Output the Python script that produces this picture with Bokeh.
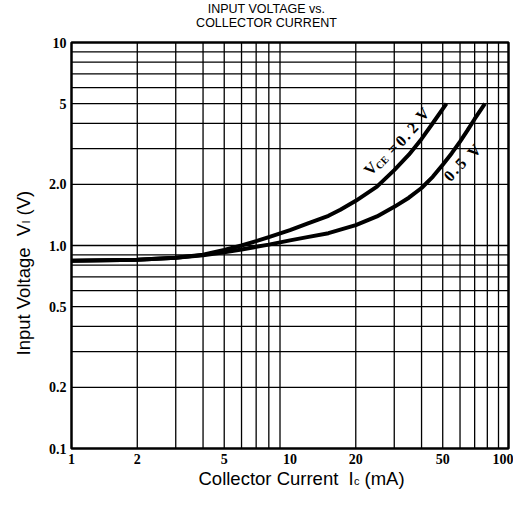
from bokeh.plotting import figure
from bokeh.models import FixedTicker, Label, Range1d
from bokeh.embed import file_html
from bokeh.resources import INLINE

# ---------------- data ----------------
x_lim = [1, 100]
y_lim = [0.1, 10]
x_ticks = [1, 2, 5, 10, 20, 50, 100]
x_tick_labels = ["1", "2", "5", "10", "20", "50", "100"]
y_ticks = [0.1, 0.2, 0.5, 1, 2, 5, 10]
y_tick_labels = ["0.1", "0.2", "0.5", "1.0", "2.0", "5", "10"]
x_grid = [2, 3, 4, 5, 6, 7, 8, 9, 20, 30, 40, 50, 60, 70, 80, 90]
y_grid = [0.2, 0.3, 0.4, 0.5, 0.6, 0.7, 0.8, 0.9, 1.0, 2, 3, 4, 5, 6, 7, 8, 9]

# V_CE = 0.2 V
ic_02 = [1, 2, 3, 4, 5, 6, 7, 8, 10, 12, 15, 17, 20, 25, 30, 35, 40, 45, 52]
vi_02 = [0.84, 0.85, 0.87, 0.90, 0.95, 1.0, 1.05, 1.10, 1.19, 1.28, 1.40, 1.50,
         1.66, 1.95, 2.35, 2.8, 3.35, 4.0, 5.0]
# V_CE = 0.5 V
ic_05 = [1, 2, 3, 4, 5, 6, 7, 8, 10, 12, 15, 20, 25, 30, 35, 40, 45, 50, 55, 60,
         65, 70, 78]
vi_05 = [0.84, 0.85, 0.87, 0.895, 0.925, 0.955, 0.985, 1.01, 1.06, 1.10, 1.15,
         1.26, 1.39, 1.55, 1.72, 1.92, 2.18, 2.5, 2.85, 3.25, 3.7, 4.2, 5.0]

title_lines = ["INPUT VOLTAGE vs.", "COLLECTOR CURRENT"]

# ---------------- layout (page pixels) ----------------
M = 8                       # page margin
W, H = 513, 490
FL, FR, FT, FB = 79, 516, 50, 456   # chart box edges in page pixels
DX = (FR - FL) / 2.0        # pixels per decade
DY = (FB - FT) / 2.0


def px_x(ix):
    return x_lim[0] * 10 ** ((ix - FL) / DX)


def px_y(iy):
    return y_lim[0] * 10 ** ((FB - iy) / DY)


p = figure(width=W, height=H, x_axis_type="log", y_axis_type="log",
           x_range=Range1d(px_x(M), px_x(M + W)),
           y_range=Range1d(px_y(M + H), px_y(M)),
           output_backend="svg", toolbar_location=None, title=None,
           min_border=0)
p.background_fill_color = "white"
p.border_fill_color = "white"
p.outline_line_color = None
p.grid.visible = False

# axes drawn at the chart box edges
xa, ya = p.xaxis[0], p.yaxis[0]
xa.fixed_location = y_lim[0]
ya.fixed_location = x_lim[0]
xa.ticker = FixedTicker(ticks=x_ticks)
ya.ticker = FixedTicker(ticks=y_ticks)
xa.major_label_overrides = {t: s for t, s in zip(x_ticks, x_tick_labels)}
ya.major_label_overrides = {t: s for t, s in zip(y_ticks, y_tick_labels)}
for ax in (xa, ya):
    ax.axis_line_color = None
    ax.major_tick_in = 0
    ax.major_tick_out = 0
    ax.minor_tick_in = 0
    ax.minor_tick_out = 0
    ax.major_label_text_font = "Liberation Serif"
    ax.major_label_text_font_style = "bold"
    ax.major_label_text_font_size = "14px"
    ax.major_label_text_color = "black"
xa.major_label_standoff = 5
ya.major_label_standoff = 5

# grid lines
nx, ny = len(x_grid), len(y_grid)
p.segment(x0=x_grid, x1=x_grid, y0=[y_lim[0]] * nx, y1=[y_lim[1]] * nx,
          line_color="black", line_width=1.3)
p.segment(x0=[x_lim[0]] * ny, x1=[x_lim[1]] * ny, y0=y_grid, y1=y_grid,
          line_color="black", line_width=1.3)
# chart box
p.quad(left=[x_lim[0]], right=[x_lim[1]], bottom=[y_lim[0]], top=[y_lim[1]],
       fill_color=None, line_color="black", line_width=2.5)

# curves
p.line(ic_02, vi_02, line_color="black", line_width=4, line_join="round")
p.line(ic_05, vi_05, line_color="black", line_width=4, line_join="round")


def add_label(ix, iy, text, size, font="Liberation Sans", style="normal",
              angle=0, align="center", baseline="middle"):
    p.add_layout(Label(x=px_x(ix), y=px_y(iy), text=text, text_font=font,
                       text_font_size=f"{size}px", text_font_style=style,
                       text_color="black", angle=angle, angle_units="deg",
                       text_align=align, text_baseline=baseline))


# title
add_label(274, 16, title_lines[0], 12.5)
add_label(274, 30, title_lines[1], 12.5)

# x axis title with subscript
kw = dict(align="left", baseline="alphabetic")
add_label(206, 486, "Collector Current", 18.5, **kw)
add_label(356, 486, "I", 18.5, **kw)
add_label(361.5, 488.5, "c", 11, **kw)
add_label(372, 486, "(mA)", 18.5, **kw)

# y axis title with subscript (rotated)
kw = dict(angle=90, align="left", baseline="alphabetic")
add_label(30.5, 363, "Input Voltage", 18.5, **kw)
add_label(30.5, 243.7, "V", 18.5, **kw)
add_label(33, 231, "I", 11, **kw)
add_label(30.5, 223, "(V)", 18.5, **kw)

# curve annotations
ser = "Liberation Serif"
for ix, iy, t, s in [(378, 176, "V", 16), (389.5, 170, "CE", 10), (400, 156, "=", 16),
                     (408.3, 148.3, "0", 16), (413.5, 142.5, ".", 16), (420, 135, "2", 16),
                     (430, 121.7, "V", 16)]:
    add_label(ix, iy, t, s, font=ser, style="bold", angle=46)
for ix, iy, t, s in [(456.7, 183.3, "0", 16), (461.7, 177, ".", 16), (468.3, 170.7, "5", 16),
                     (481.7, 158.3, "V", 16)]:
    add_label(ix, iy, t, s, font=ser, style="bold", angle=47)

open("out.html", "w").write(file_html(p, INLINE))
